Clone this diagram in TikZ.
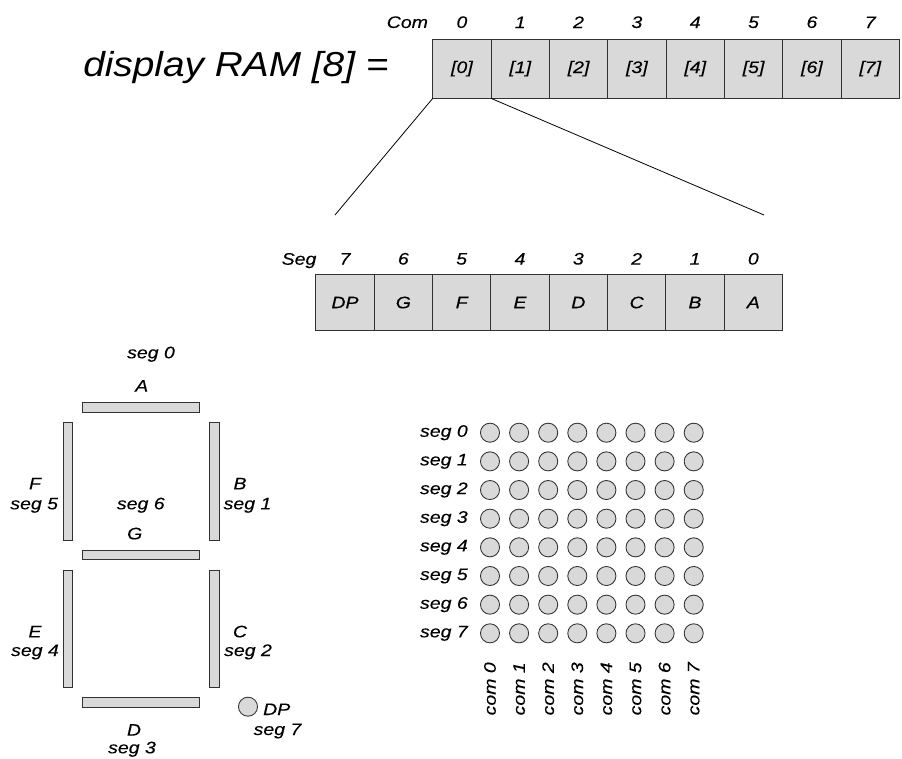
\documentclass[tikz,border=0pt]{standalone}
\usepackage{fontspec}
\setmainfont{Liberation Sans}[FakeStretch=1.12]
\newfontfamily\lblfont{Liberation Sans}[FakeStretch=1.17, FakeBold=0.2]
\usepackage{tikz}
\usetikzlibrary{positioning}
\definecolor{segfill}{RGB}{217,217,217}
\definecolor{segline}{RGB}{50,50,50}
\tikzset{
	lbl/.style = {font=\lblfont\fontsize{12.5}{14}\selectfont\itshape, inner sep=0},
	ramcell/.style = {draw=segline, fill=segfill, line width=0.75pt, outer sep=0, minimum width=43.75pt, minimum height=44.5pt, inner sep=0, font=\lblfont\fontsize{12.5}{14}\selectfont\itshape},
	segcell/.style = {ramcell, minimum height=42.3pt},
	led/.style = {circle, draw=segline, fill=segfill, line width=0.65pt, minimum size=14.3pt, inner sep=0},
	bar/.style = {draw=segline, fill=segfill, line width=0.6pt}
}

\begin{document}
\begin{tikzpicture}[x=0.75pt, y=-0.75pt]
	\useasboundingbox (0,0) rectangle (902,759);
	
	% display RAM
	\node [font=\fontsize{26}{30}\selectfont\itshape, inner sep=0, anchor=base west] (title) at (83,76.7) {display RAM [8] =};
	\node [ramcell] (ram0) at (461.9,68.7) {[0]};
	\foreach \i [count=\j from 0] in {1,...,7}
		\node [ramcell, right=0pt of ram\j] (ram\i) {[\i]};
	\foreach \i in {0,...,7}
		\node [lbl, above=8pt of ram\i] (com\i) {\i};
	\node [lbl, base left=21pt of com0] (comtxt) {Com};
	
	% one byte
	\node [segcell] (bit7) at (345,302.5) {DP};
	\foreach \b/\t in {6/G,5/F,4/E,3/D,2/C,1/B,0/A} {
		\pgfmathtruncatemacro\prev{\b+1}
		\node [segcell, right=0pt of bit\prev] (bit\b) {\t};
	}
	\foreach \b in {0,...,7}
		\node [lbl, above=7pt of bit\b] (num\b) {\b};
	\node [lbl, base left=17pt of num7] (segtxt) {Seg};
	
	\coordinate (fanl) at (335,215);
	\coordinate (fanr) at (764,215);
	\draw [line width=0.6pt] (ram0.south west) -- (fanl);
	\draw [line width=0.6pt] (ram0.south east) -- (fanr);
	
	% seven segments
	\draw [bar] (82.7,402.3) rectangle (199.3,412.3);
	\draw [bar] (82.7,550) rectangle (199.3,559.5);
	\draw [bar] (82.7,697.3) rectangle (199.3,707);
	\draw [bar] (63,422.3) rectangle (72.7,540.3);
	\draw [bar] (209.3,422.3) rectangle (219,540.3);
	\draw [bar] (63,570) rectangle (72.7,687);
	\draw [bar] (209.3,570) rectangle (219,687);
	\node [led] (dp) at (248,706.7) {};
	
	\node [lbl, anchor=base] (sA) at (151,358.3) {seg 0};
	\node [lbl, anchor=base] (lA) at (141.7,391.7) {A};
	\node [lbl, anchor=base] (lF) at (35,489.3) {F};
	\node [lbl, anchor=base] (sF) at (34.2,509.3) {seg 5};
	\node [lbl, anchor=base] (sG) at (140.8,509.3) {seg 6};
	\node [lbl, anchor=base] (lG) at (134.7,539.3) {G};
	\node [lbl, anchor=base] (lB) at (240,489.3) {B};
	\node [lbl, anchor=base] (sB) at (247.5,509.3) {seg 1};
	\node [lbl, anchor=base] (lE) at (35,637.3) {E};
	\node [lbl, anchor=base] (sE) at (35,656) {seg 4};
	\node [lbl, anchor=base] (lC) at (240,637.3) {C};
	\node [lbl, anchor=base] (sC) at (248,656) {seg 2};
	\node [lbl, anchor=base] (lDP) at (276.7,715) {DP};
	\node [lbl, anchor=base] (sDP) at (277.5,735) {seg 7};
	\node [lbl, anchor=base] (lD) at (134,735.7) {D};
	\node [lbl, anchor=base] (sD) at (132,753.3) {seg 3};
	
	% matrix
	\foreach \r in {0,...,7} {
		\foreach \c in {0,...,7}
			\node [led] (d\r\c) at ({490+29.1*\c},{432.7+28.66*\r}) {};
		\node [lbl, left=9pt of d\r0] (row\r) {seg \r};
	}
	\foreach \c in {0,...,7}
		\node [lbl, rotate=90, anchor=east] (col\c) at ({490+29.1*\c},662) {com \c};
\end{tikzpicture}
\end{document}
